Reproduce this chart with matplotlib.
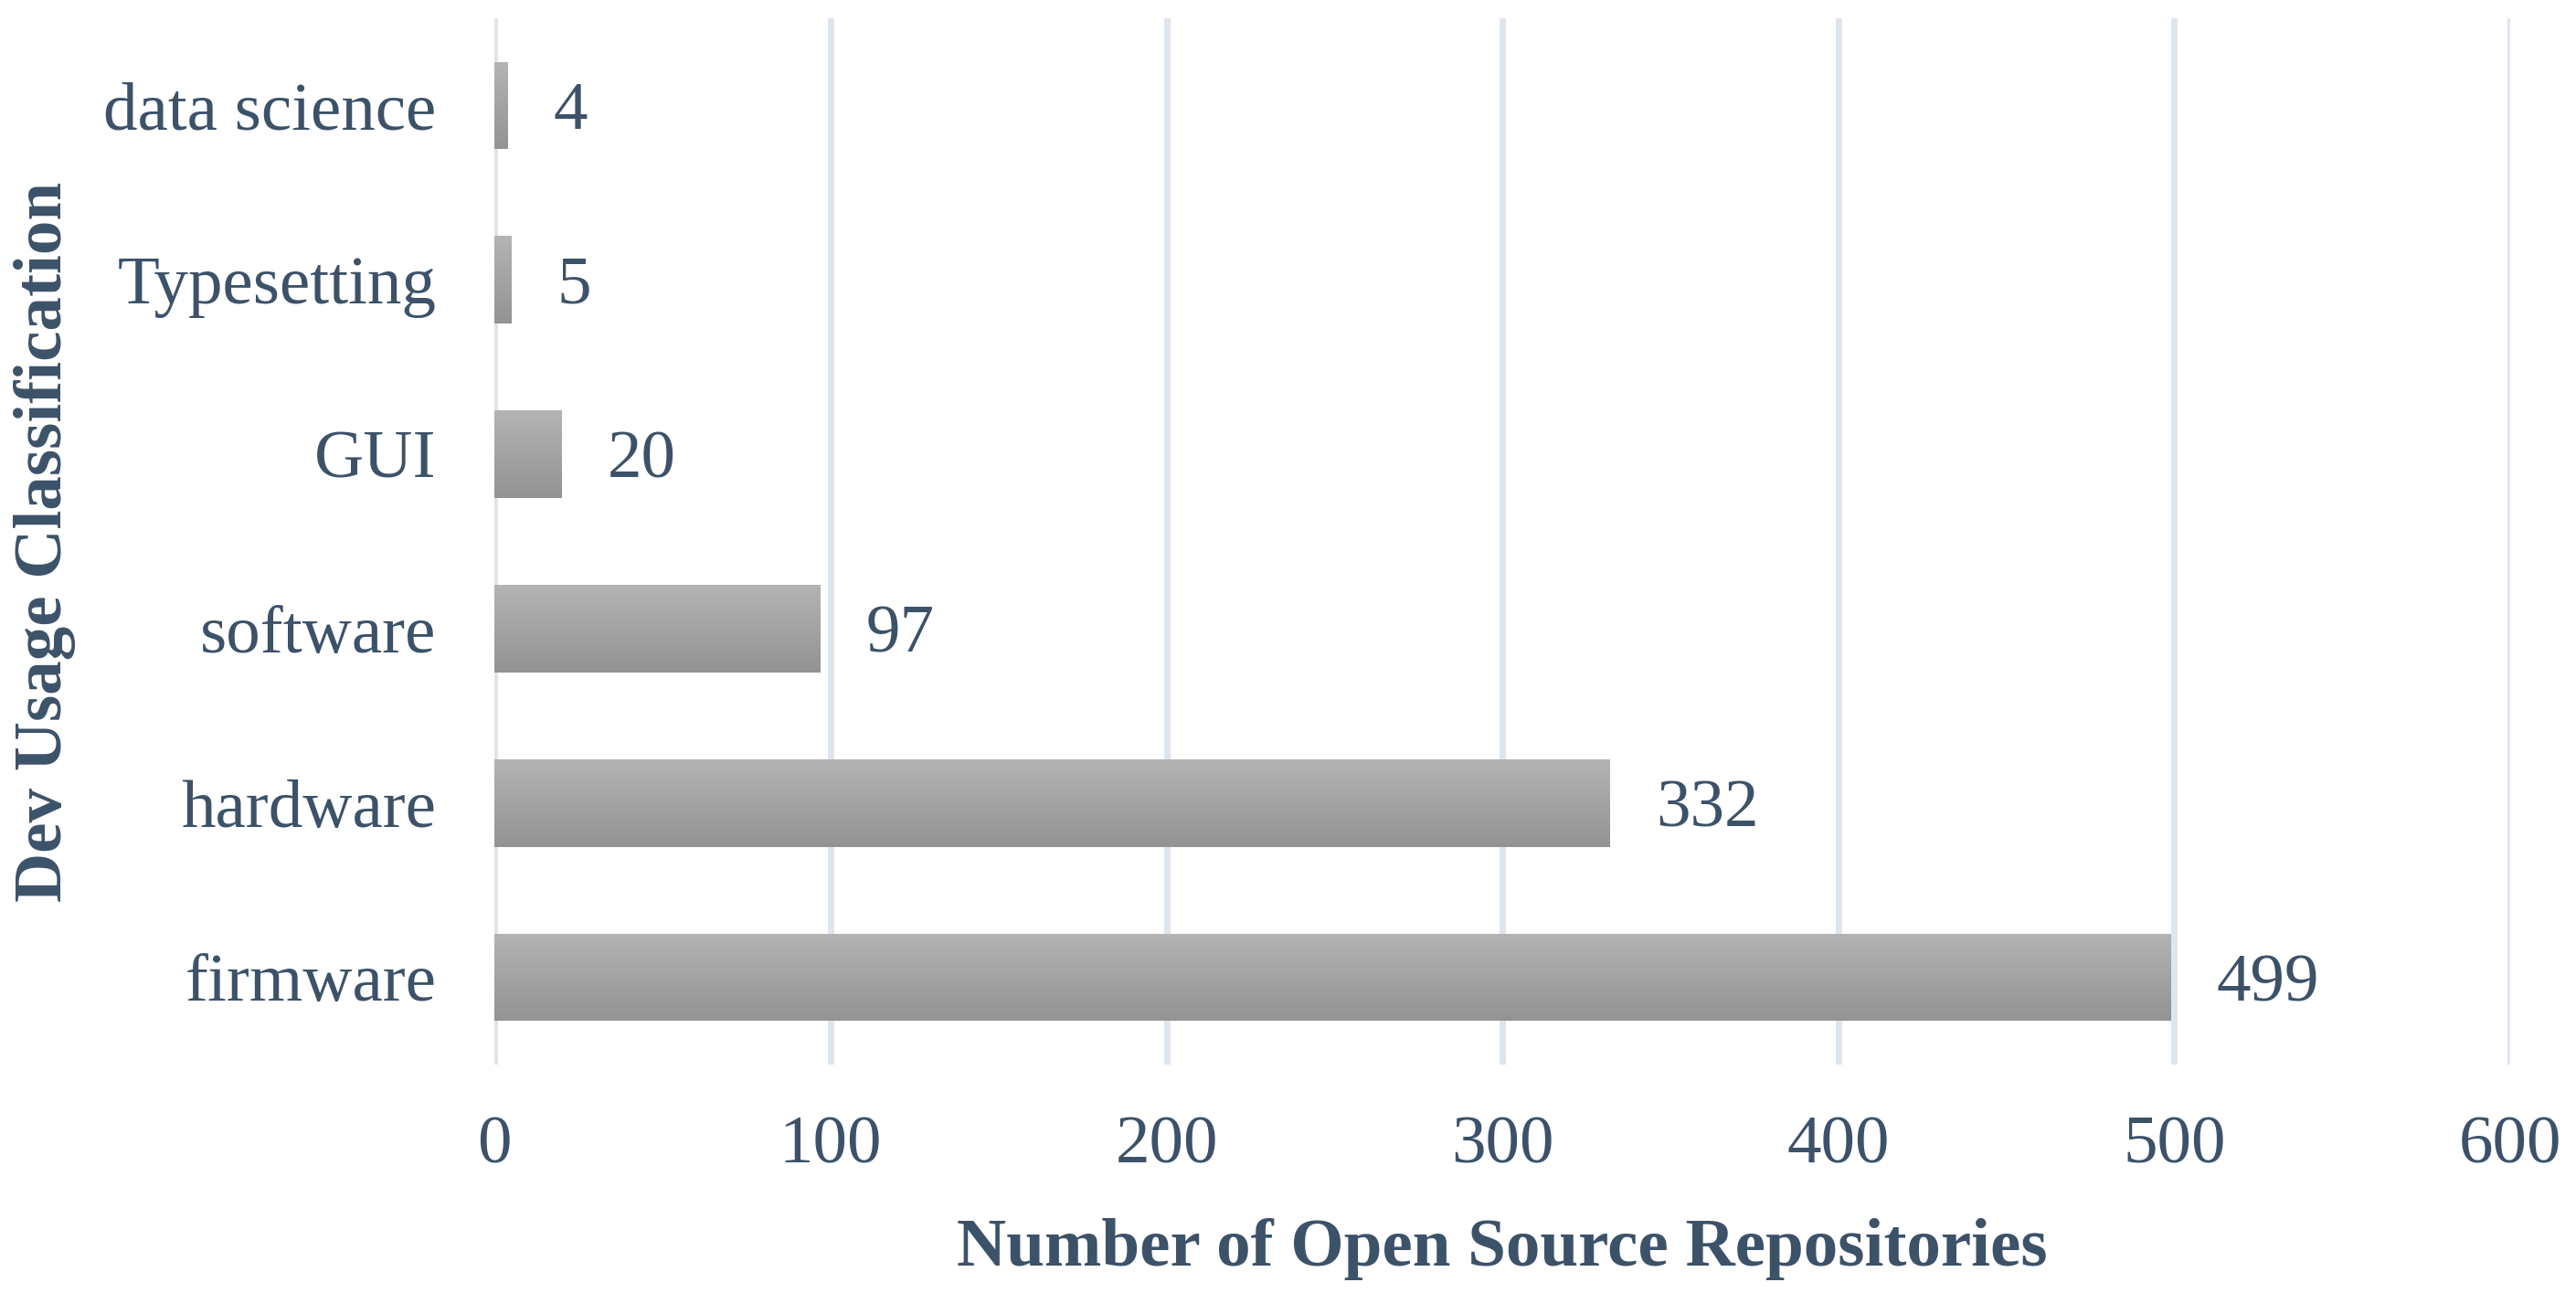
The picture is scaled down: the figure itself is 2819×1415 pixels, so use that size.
import matplotlib
matplotlib.use("Agg")
import matplotlib.pyplot as plt
import numpy as np

categories = ["firmware", "hardware", "software", "GUI", "Typesetting", "data science"]
counts = [499, 332, 97, 20, 5, 4]
xticks = [0, 100, 200, 300, 400, 500, 600]

TEXT = "#3C5269"
GRID = "#DEE5ED"

plt.rcParams['font.family'] = ['Liberation Serif', 'DejaVu Serif']

fig = plt.figure(figsize=(28.19, 14.15), dpi=100)
ax = fig.add_axes([0.192, 0.1766, 0.9745 - 0.192, 0.986 - 0.1766])

ypos = np.arange(len(categories))
bars = ax.barh(ypos, counts, height=0.5, color="#A5A5A5", zorder=2)

# vertical gradient on each bar, light on top, darker below
grad = np.linspace(0, 1, 256).reshape(-1, 1)
cmap = matplotlib.colors.LinearSegmentedColormap.from_list("g", ["#939393", "#B4B4B4"])
for b in bars:
    x0, y0 = b.get_x(), b.get_y()
    w, h = b.get_width(), b.get_height()
    im = ax.imshow(grad, extent=[x0, x0 + w, y0, y0 + h], origin="lower",
                   cmap=cmap, aspect="auto", zorder=3)
    im.set_clip_path(b)

for b, v in zip(bars, counts):
    ax.annotate(str(v), (b.get_width(), b.get_y() + b.get_height() / 2),
                xytext=(36, 0), textcoords="offset points", ha="left",
                va="center_baseline", fontsize=54, color=TEXT)

ax.set_xlim(0, 600)
ax.set_ylim(-0.5, len(categories) - 0.5)
ax.set_xticks(xticks)
ax.set_yticks(ypos)
ax.set_yticklabels(categories)
ax.tick_params(axis="both", length=0, labelsize=54, labelcolor=TEXT)
ax.tick_params(axis="x", pad=40)
ax.tick_params(axis="y", pad=46)
ax.xaxis.grid(True, color=GRID, linewidth=5, zorder=0)
ax.set_axisbelow(True)
for s in ax.spines.values():
    s.set_visible(False)

ax.set_xlabel("Number of Open Source Repositories", fontsize=54, fontweight="bold",
              color=TEXT, va="center", ha="center")
ax.set_ylabel("Dev Usage Classification", fontsize=54, fontweight="bold",
              color=TEXT, va="center", ha="center")
ax.xaxis.set_label_coords(0.5, -0.176)
ax.yaxis.set_label_coords(-0.223, 0.5)

fig.savefig("out.png", dpi=100, facecolor="white")
